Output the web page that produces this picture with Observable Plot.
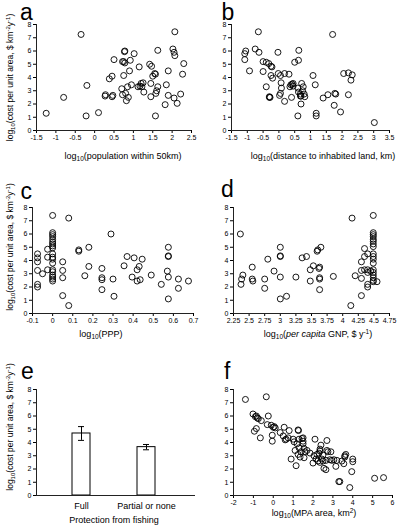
<!DOCTYPE html>
<html><head><meta charset="utf-8">
<script src="https://cdn.jsdelivr.net/npm/d3@7"></script>
<script src="https://cdn.jsdelivr.net/npm/@observablehq/plot@0.6"></script>
<style>
body{margin:0;background:#fff;}
#root{position:relative;width:400px;height:526px;overflow:hidden;background:#fff;font-family:"Liberation Sans",Arial,sans-serif;}
.p{position:absolute;}
#ov{position:absolute;left:0;top:0;pointer-events:none;}
</style></head><body><div id="root"></div>
<script>
// ---- data ----
const yTicks = [0,1,2,3,4,5,6,7,8];
const aTicks = [-1.5,-1,-0.5,0,0.5,1,1.5,2,2.5];
const bTicks = [-1.5,-1,-0.5,0,0.5,1,1.5,2,2.5,3,3.5];
const cTicks = [-0.1,0,0.1,0.2,0.3,0.4,0.5,0.6,0.7];
const dTicks = [2.25,2.5,2.75,3,3.25,3.5,3.75,4,4.25,4.5,4.75];
const fTicks = [-2,-1,0,1,2,3,4,5,6];

const panelA = [[-1.25,1.3],[-0.8,2.5],[-0.35,7.25],[-0.22,1.1],[-0.2,3.4],[0.1,1.35],[0.27,2.6],[0.28,2.7],[0.38,3.9],[0.45,4.1],[0.45,2.55],[0.47,2.65],[0.5,5.35],[0.7,3.15],[0.72,2.7],[0.72,5.2],[0.75,5.2],[0.75,4.15],[0.77,5.95],[0.78,6.0],[0.78,5.1],[0.8,2.8],[0.82,2.25],[0.85,3.3],[0.87,2.5],[0.9,4.5],[0.92,5.3],[0.95,3.45],[1.02,5.8],[1.12,3.3],[1.15,4.8],[1.17,3.35],[1.2,3.55],[1.25,3.6],[1.22,3.3],[1.27,2.9],[1.42,5.0],[1.47,4.85],[1.45,3.55],[1.45,2.55],[1.5,4.1],[1.55,4.3],[1.57,4.25],[1.57,1.1],[1.58,2.8],[1.6,3.0],[1.63,6.05],[1.63,3.3],[1.82,1.95],[1.85,3.45],[1.9,2.65],[1.9,4.5],[2.02,6.15],[2.05,5.9],[2.07,5.65],[2.05,2.45],[2.07,7.45],[2.13,2.05],[2.22,2.75],[2.27,4.25],[2.3,5.05]];

const panelB = [[-1.08,5.35],[-1.08,5.8],[-1.05,6.0],[-0.93,4.5],[-0.75,6.15],[-0.65,7.45],[-0.63,5.9],[-0.5,5.2],[-0.5,4.45],[-0.4,5.15],[-0.4,3.3],[-0.32,5.05],[-0.3,2.5],[-0.3,2.55],[-0.28,2.5],[-0.25,4.85],[-0.22,4.8],[-0.25,4.15],[-0.2,3.95],[-0.03,5.9],[-0.02,4.3],[0.05,4.15],[0.02,2.65],[0.05,2.8],[0.07,3.6],[0.08,3.2],[0.18,2.2],[0.18,4.3],[0.32,4.25],[0.35,3.3],[0.38,3.45],[0.4,2.5],[0.42,3.5],[0.45,3.55],[0.45,3.35],[0.5,5.15],[0.6,1.1],[0.6,3.2],[0.62,2.9],[0.62,5.3],[0.63,6.05],[0.68,2.75],[0.68,2.6],[0.7,2.6],[0.7,2.0],[0.72,3.55],[0.75,3.0],[0.77,3.3],[0.8,2.75],[0.82,2.55],[1.08,4.15],[1.15,3.45],[1.18,1.3],[1.18,1.1],[1.4,2.45],[1.55,2.7],[1.7,7.25],[1.75,1.9],[1.77,2.8],[1.8,2.75],[1.95,1.4],[2.05,4.3],[2.2,4.35],[2.2,2.7],[2.28,3.8],[2.32,4.2],[3.02,0.6]];

const panelC = [[-0.075,4.5],[-0.075,4.2],[-0.075,3.9],[-0.075,3.25],[-0.075,2.2],[-0.075,2.0],[-0.05,3.0],[-0.025,4.85],[-0.025,4.25],[-0.025,3.3],
[0,7.4],[0,6.1],[0,5.95],[0,5.8],[0,5.6],[0,5.4],[0,5.25],[0,5.1],[0,4.95],[0,4.5],[0,4.25],[0,4.1],[0,3.8],[0,3.3],[0,3.15],[0,2.9],[0,2.75],[0,2.6],[0,2.45],
[0.05,3.9],[0.05,3.25],[0.05,2.7],[0.05,1.35],[0.08,7.2],[0.08,0.6],[0.13,4.8],[0.13,4.7],[0.16,2.85],[0.18,5.0],[0.18,3.55],[0.245,3.4],[0.245,2.7],[0.245,2.55],[0.245,1.8],[0.29,6.0],[0.3,2.6],[0.305,1.3],[0.355,3.6],[0.37,4.3],[0.395,2.75],[0.405,4.2],[0.42,2.45],[0.42,3.3],[0.43,3.55],[0.435,2.55],[0.445,4.1],[0.49,2.9],[0.54,2.2],[0.57,3.2],[0.575,5.0],[0.575,4.35],[0.575,4.3],[0.575,2.75],[0.575,1.1],[0.625,2.6],[0.625,1.9],[0.675,2.45]];

const panelD = [[2.36,6.0],[2.37,2.2],[2.38,2.6],[2.4,2.9],[2.55,3.5],[2.55,2.6],[2.56,2.45],[2.75,2.6],[2.75,1.9],[2.8,4.1],[2.9,3.2],[3.0,5.0],[3.0,4.35],[3.0,4.3],[3.0,2.75],[3.0,1.1],[3.1,1.3],[3.25,2.75],[3.35,4.2],[3.42,4.3],[3.48,3.3],[3.48,2.45],[3.53,3.6],[3.59,4.7],[3.6,4.8],[3.62,3.4],[3.63,3.5],[3.63,2.6],[3.63,2.7],[3.63,1.8],[3.65,5.0],[3.85,2.8],[4.13,0.6],[4.15,7.2],[4.2,2.85],[4.3,3.9],[4.3,3.25],[4.3,2.65],[4.3,1.35],[4.35,4.9],[4.35,4.3],[4.35,3.3],[4.4,4.5],[4.4,3.3],[4.4,3.1],[4.4,2.2],[4.4,2.0],[4.45,3.2],
[4.49,7.4],[4.49,6.1],[4.49,5.95],[4.49,5.8],[4.49,5.6],[4.49,5.45],[4.49,5.25],[4.49,5.05],[4.49,4.5],[4.49,4.3],[4.49,4.1],[4.49,3.8],[4.49,3.3],[4.49,3.1],[4.49,2.9],[4.49,2.7],[4.49,2.5],[4.49,2.4],[4.55,2.4]];

const panelF = [[-1.4,7.25],[-0.35,7.45],[-1.02,6.15],[-0.9,5.95],[-0.85,6.0],[-0.8,5.85],[-0.75,5.8],[-0.6,5.65],[-0.25,6.0],[-0.3,5.35],[-0.1,5.3],[0.0,5.15],[0.05,5.2],[0.1,5.1],[-0.95,4.85],[-0.85,5.05],[-0.65,4.35],[-0.05,4.55],[-0.05,4.1],[0.35,4.75],[0.55,5.15],[0.5,4.5],[0.65,4.25],[0.6,4.2],[0.8,4.9],[0.75,4.35],[0.9,2.75],[1.0,4.25],[1.05,4.05],[1.1,3.4],[1.15,2.25],[1.2,3.9],[1.25,3.1],[1.25,4.95],[1.27,4.9],[1.3,3.6],[1.3,4.25],[1.35,2.9],[1.4,3.3],[1.45,4.3],[1.5,4.35],[1.5,4.1],[1.5,3.9],[1.55,3.55],[1.55,2.85],[1.6,3.3],[1.7,3.4],[1.85,3.2],[2.0,2.45],[2.05,3.0],[2.1,4.25],[2.15,2.75],[2.2,3.1],[2.25,2.6],[2.3,3.2],[2.35,3.35],[2.35,3.5],[2.35,2.5],[2.4,3.8],[2.45,2.75],[2.5,3.05],[2.5,2.6],[2.55,2.05],[2.65,2.65],[2.65,1.95],[2.7,4.15],[2.7,3.4],[2.75,3.3],[2.85,2.7],[2.9,3.3],[2.95,2.65],[3.05,2.7],[3.15,2.2],[3.2,2.65],[3.3,1.05],[3.35,1.05],[3.45,2.6],[3.55,2.4],[3.6,2.9],[3.6,3.0],[3.65,3.1],[3.85,0.6],[3.95,1.8],[4.0,2.75],[4.0,2.55],[5.1,1.3],[5.55,1.35]];

const eCategories = ["Full","Partial or none"];
const eMeans = [4.68, 3.65];
const eErrors = [0.52, 0.2];

// ---- drawing ----
const FONT = "Liberation Sans, Arial, sans-serif";
const AX = "#222";
const root = document.getElementById("root");

function place(el, left, top) {
  const d = document.createElement("div");
  d.className = "p"; d.style.left = left + "px"; d.style.top = top + "px";
  d.appendChild(el); root.appendChild(d);
}

function scatter(pts, xdomain, xticks, ml, mr) {
  const data = pts.map(([x, y]) => ({x, y}));
  return Plot.plot({
    width: 200, height: 150,
    marginLeft: ml, marginRight: mr, marginTop: 24, marginBottom: 20,
    style: {fontFamily: FONT, fontSize: "7px", color: "#000", background: "transparent", overflow: "visible"},
    x: {domain: xdomain, ticks: xticks, tickSize: 3, tickPadding: 2, tickFormat: d => String(d), label: null},
    y: {domain: [0, 8], ticks: yTicks, tickSize: 3, tickPadding: 2, tickFormat: d => String(d), label: null},
    marks: [
      Plot.ruleY([0], {stroke: AX}),
      Plot.ruleX([xdomain[0]], {stroke: AX}),
      Plot.dot(data, {x: "x", y: "y", r: 3, stroke: "#000", strokeWidth: 0.9, fill: "none"})
    ]
  });
}

place(scatter(panelA, [-1.5, 2.5], aTicks, 36, 9), 0, 0);
place(scatter(panelB, [-1.5, 3.5], bTicks, 31, 11), 200, 0);
place(scatter(panelC, [-0.1, 0.7], cTicks, 32, 7), 0, 183);
place(scatter(panelD, [2.25, 4.75], dTicks, 33, 11), 200, 183);
place(scatter(panelF, [-2, 6], fTicks, 33, 8), 200, 365);

// panel e: bars with error bars
const eData = eCategories.map((c, i) => ({c, m: eMeans[i], lo: eMeans[i] - eErrors[i], hi: eMeans[i] + eErrors[i]}));
const plotE = Plot.plot({
  width: 200, height: 150,
  marginLeft: 36, marginRight: 5, marginTop: 24, marginBottom: 20,
  style: {fontFamily: FONT, fontSize: "7px", color: "#000", background: "transparent", overflow: "visible"},
  x: {domain: eCategories, range: [38.3, 188.2], paddingInner: 0.727, paddingOuter: 0.5, axis: null},
  y: {domain: [0, 8], ticks: yTicks, tickSize: 3, tickPadding: 2, tickFormat: d => String(d), label: null},
  marks: [
    Plot.barY(eData, {x: "c", y: "m", fill: "#fff", stroke: "#000", strokeWidth: 1}),
    Plot.ruleX(eData, {x: "c", y1: "lo", y2: "hi", stroke: "#000", strokeWidth: 1}),
    Plot.tickY(eData, {x: "c", y: "hi", stroke: "#000", insetLeft: 6, insetRight: 6}),
    Plot.tickY(eData, {x: "c", y: "lo", stroke: "#000", insetLeft: 6, insetRight: 6}),
    Plot.ruleY([0], {stroke: AX}),
    Plot.ruleX([0], {x: () => null, stroke: "none"}),
    Plot.text(eData, {x: "c", y: () => 0, text: "c", dy: 11, fontSize: 9, fill: "#000"})
  ]
});
place(plotE, 0, 365);

// left axis line for panel e (frame edge)
const ovNS = "http://www.w3.org/2000/svg";
const ov = document.createElementNS(ovNS, "svg");
ov.setAttribute("id", "ov"); ov.setAttribute("width", 400); ov.setAttribute("height", 526);
ov.style.fontFamily = FONT;
ov.innerHTML = `
<line x1="36.5" x2="36.5" y1="389" y2="495" stroke="${AX}"/>
<g font-size="23" fill="#000">
 <text x="20" y="19.5">a</text>
 <text x="221.5" y="19.5">b</text>
 <text x="20.5" y="198.5">c</text>
 <text x="221" y="197">d</text>
 <text x="21" y="379">e</text>
 <text x="224" y="379">f</text>
</g>
<g font-size="9" fill="#000" text-anchor="middle">
 <text x="123" y="159">log<tspan font-size="6.5" dy="2">10</tspan><tspan dy="-2">(population within 50km)</tspan></text>
 <text x="323" y="159">log<tspan font-size="6.5" dy="2">10</tspan><tspan dy="-2">(distance to inhabited land, km)</tspan></text>
 <text x="101" y="337">log<tspan font-size="6.5" dy="2">10</tspan><tspan dy="-2">(PPP)</tspan></text>
 <text x="318" y="337">log<tspan font-size="6.5" dy="2">10</tspan><tspan dy="-2">(</tspan><tspan font-style="italic">per capita</tspan> GNP, $ y<tspan font-size="6.5" dy="-3">-1</tspan><tspan dy="3">)</tspan></text>
 <text x="314" y="516">log<tspan font-size="6.5" dy="2">10</tspan><tspan dy="-2">(MPA area, km</tspan><tspan font-size="6.5" dy="-3">2</tspan><tspan dy="3">)</tspan></text>
 <text x="114" y="522.5">Protection from fishing</text>
</g>
<g font-size="8.5" fill="#000" text-anchor="middle">
 ${[77.5, 247, 427].map(cy => `<text transform="translate(12.5,${cy}) rotate(-90)">log<tspan font-size="6" dy="2">10</tspan><tspan dy="-2">(cost per unit area, $ km</tspan><tspan font-size="6" dy="-3">-2</tspan><tspan dy="3">y</tspan><tspan font-size="6" dy="-3">-1</tspan><tspan dy="3">)</tspan></text>`).join("")}
</g>`;
root.appendChild(ov);
</script></body></html>
